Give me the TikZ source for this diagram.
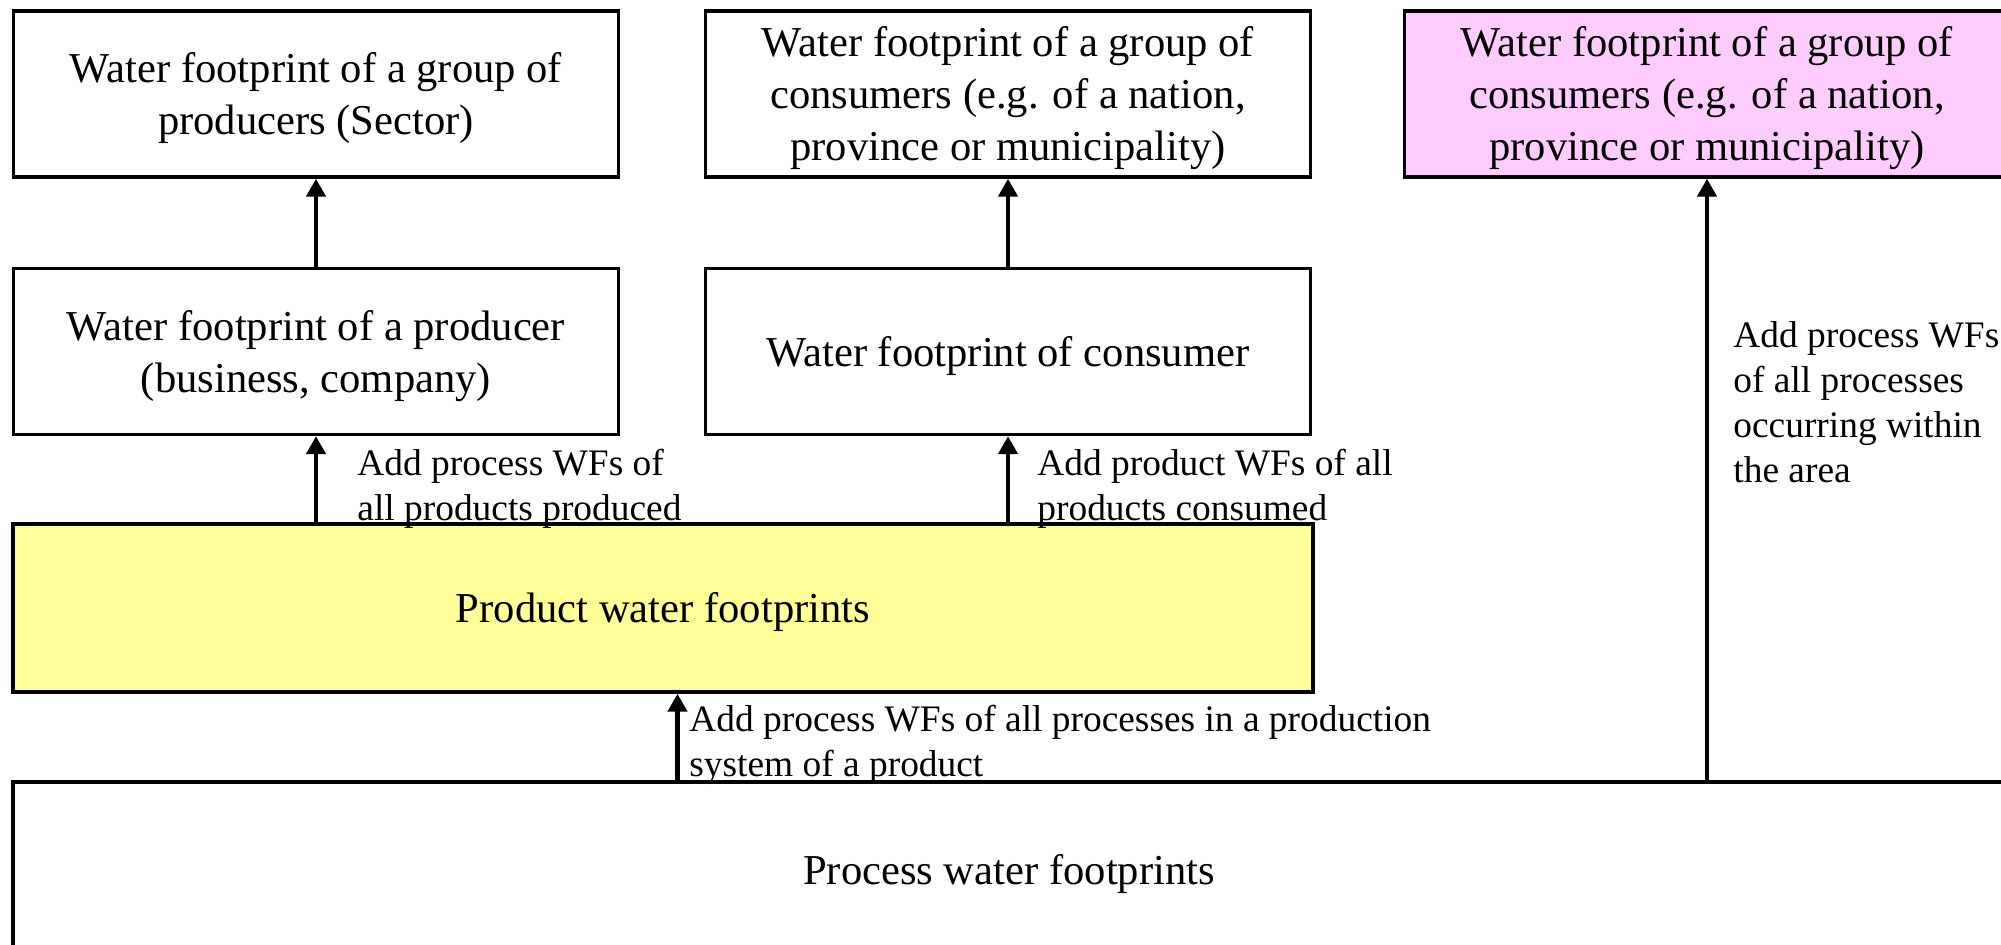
\documentclass[tikz,border=0pt]{standalone}
\usepackage{fontspec}
\setmainfont{Liberation Serif}
\usetikzlibrary{arrows.meta}
\definecolor{yel}{HTML}{FFFF99}
\definecolor{pnk}{HTML}{FFCCFF}
\tikzset{
  box/.style={draw, line width=1.7pt, rectangle, inner sep=0pt, align=center, text depth=0pt,
    minimum width=302.5pt, minimum height=83pt, font=\fontsize{21.3}{26}\selectfont},
  lbl/.style={anchor=west, inner sep=0pt, align=left, font=\fontsize{18.7}{22.5}\selectfont},
  arr/.style={line width=2.3pt, -{Triangle[length=9pt,width=9.5pt]}}
}
\begin{document}
\begin{tikzpicture}[x=0.5pt,y=-0.5pt]
\useasboundingbox (0,0) rectangle (2001,945);
\begin{scope}
\clip (0,0) rectangle (2001,945);
\node[box] (A) at (316,94) {Water footprint of a group of\\producers (Sector)};
\node[box] (B) at (1008,94) {Water footprint of a group of\\consumers (e.g. of a nation,\\province or municipality)};
\node[box, fill=pnk] (C) at (1707,94) {Water footprint of a group of\\consumers (e.g. of a nation,\\province or municipality)};
\node[box] (D) at (316,351.5) {Water footprint of a producer\\(business, company)};
\node[box] (E) at (1008,351.5) {Water footprint of consumer};
\node[box, fill=yel, minimum width=650pt, minimum height=84pt] (F) at (663,608) {Product water footprints};
\node[box, minimum width=996pt, minimum height=87pt] (G) at (1009,869) {Process water footprints};
\end{scope}
\coordinate (pf) at (677.5,0);
\draw[arr] (D.south |- F.north) -- (D.south);
\draw[arr] (D.north) -- (A.south);
\draw[arr] (E.south |- F.north) -- (E.south);
\draw[arr] (E.north) -- (B.south);
\draw[arr] (pf |- G.north) -- (pf |- F.south);
\draw[arr] (C.south |- G.north) -- (C.south);
\node[lbl] (l1) at (357,489) {Add process WFs of\\all products produced};
\node[lbl] (l2) at (1037,489) {Add product WFs of all\\products consumed};
\node[lbl] (l3) at (689,745) {Add process WFs of all processes in a production\\system of a product};
\node[lbl] (l4) at (1733,402) {Add process WFs\\of all processes\\occurring within\\the area};
\end{tikzpicture}
\end{document}
